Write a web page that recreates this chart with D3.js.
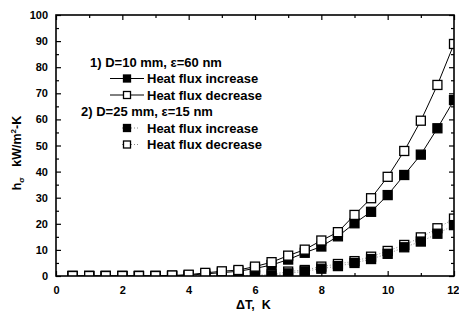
<!DOCTYPE html>
<html>
<head>
<meta charset="utf-8">
<script src="https://cdn.jsdelivr.net/npm/d3@7"></script>
<style>
  body { margin: 0; background: #fff; }
  svg { display: block; font-family: "Liberation Sans", Arial, sans-serif; }
  text { white-space: pre; }
</style>
</head>
<body>
<svg width="459" height="320"></svg>
<script>
"use strict";

// Data.

var dT = [0.5, 1, 1.5, 2, 2.5, 3, 3.5, 4, 4.5, 5, 5.5, 6,
          6.5, 7, 7.5, 8, 8.5, 9, 9.5, 10, 10.5, 11, 11.5, 12];

// 1) D=10 mm, eps=60 nm
var inc10 = [0, 0, 0, 0, 0, 0, 0.1, 0.3, 0.8, 1.3, 1.8, 2.9,
             4.2, 6.3, 8.9, 11.3, 15.2, 20.2, 24.6, 31.0, 38.7, 46.5, 56.6, 67.4];
var dec10 = [0, 0, 0, 0, 0, 0, 0.2, 0.5, 1.2, 1.8, 2.3, 3.6,
             5.3, 7.8, 10.1, 13.6, 16.8, 23.4, 29.8, 38.0, 47.9, 59.5, 73.2, 88.9];

// 2) D=25 mm, eps=15 nm
var inc25 = [0, 0, 0, 0, 0, 0, 0, 0, 0, 0, 0, 0,
             0.2, 1.0, 1.8, 2.8, 3.8, 5.0, 6.5, 8.5, 11.0, 13.2, 16.2, 19.5];
var dec25 = [0, 0, 0, 0, 0, 0, 0, 0, 0, 0, 0.1, 0.3,
             0.6, 1.7, 2.3, 3.6, 4.6, 5.7, 7.4, 9.6, 11.9, 14.8, 18.3, 22.0];

var xTicks = [0, 2, 4, 6, 8, 10, 12];
var yTicks = [0, 10, 20, 30, 40, 50, 60, 70, 80, 90, 100];

var legendRows = [
  {text: "1) D=10 mm, \u03b5=60 nm", kind: "head"},
  {text: "Heat flux increase", kind: "solid", fill: "#000"},
  {text: "Heat flux decrease", kind: "solid", fill: "#fff"},
  {text: "2) D=25 mm, \u03b5=15 nm", kind: "head"},
  {text: "Heat flux increase", kind: "dot", fill: "#000"},
  {text: "Heat flux decrease", kind: "dot", fill: "#fff"}
];

// SVG and scales.

var svg = d3.select("svg");
var Left = 56, Right = 454, Top = 15, Bottom = 276;

var x = d3.scaleLinear().domain([0, 12]).range([Left, Right]);
var y = d3.scaleLinear().domain([0, 100]).range([Bottom, Top]);

var MarkSize = 9;
var TickFont = "11px";

// Markers are cut by the frame, like in the original.
svg.append("clipPath").attr("id", "plot")
  .append("rect")
    .attr("x", Left).attr("y", Top)
    .attr("width", Right - Left).attr("height", Bottom - Top);

// Axes: ticks point inward on all four sides.

var DrawAxis = function(axis, tx, ty, labels){
  var g = svg.append("g")
    .attr("transform", "translate(" + tx + "," + ty + ")")
    .call(axis);
  g.select(".domain").remove();
  g.selectAll("line").attr("stroke", "#000").attr("stroke-width", 1.2);
  g.selectAll("text").attr("fill", "#000")
    .style("font-size", TickFont).style("font-weight", "bold");
  if (!labels) g.selectAll("text").remove();
  return g;
};

var xg = DrawAxis(d3.axisBottom(x).tickValues(xTicks).tickSize(-5).tickPadding(10), 0, Bottom, true);
// last label sits on the window edge, keep it inside
xg.selectAll("text").filter(function(d){ return d == 12; })
  .attr("text-anchor", "end").attr("x", 459 - Right);
DrawAxis(d3.axisBottom(x).tickValues(d3.range(1, 12, 2)).tickSize(-3), 0, Bottom, false);
DrawAxis(d3.axisTop(x).tickValues(xTicks).tickSize(-5), 0, Top, false);
DrawAxis(d3.axisTop(x).tickValues(d3.range(1, 12, 2)).tickSize(-3), 0, Top, false);

DrawAxis(d3.axisLeft(y).tickValues(yTicks).tickSize(-5).tickPadding(8), Left, 0, true);
DrawAxis(d3.axisLeft(y).tickValues(d3.range(5, 100, 10)).tickSize(-3), Left, 0, false);
DrawAxis(d3.axisRight(y).tickValues(yTicks).tickSize(-5), Right, 0, false);
DrawAxis(d3.axisRight(y).tickValues(d3.range(5, 100, 10)).tickSize(-3), Right, 0, false);

// Axis titles.

svg.append("text")
  .attr("x", 236).attr("y", 309)
  .style("font-size", "12.5px").style("font-weight", "bold")
  .text("\u0394T,  K");

var yl = svg.append("text")
  .attr("transform", "translate(21,153) rotate(-90)")
  .attr("text-anchor", "middle")
  .style("font-size", "12.5px").style("font-weight", "bold");
yl.append("tspan").text("h");
yl.append("tspan").attr("dy", 3).style("font-size", "8px").text("\u03c3");
yl.append("tspan").attr("dy", -3).text("   kW/m");
yl.append("tspan").attr("dy", -5).style("font-size", "8px").text("2");
yl.append("tspan").attr("dy", 5).text("-K");

// Series.

var series = [
  {values: dec25, fill: "#fff", line: "dot"},
  {values: inc25, fill: "#000", line: "dot"},
  {values: inc10, fill: "#000", line: "solid"},
  {values: dec10, fill: "#fff", line: "solid"}
];

var line = d3.line()
  .x(function(d){ return x(d[0]); })
  .y(function(d){ return y(d[1]); });

var plot = svg.append("g").attr("clip-path", "url(#plot)");

series.forEach(function(s){
  var pts = dT.map(function(t, i){ return [t, s.values[i]]; });
  plot.append("path")
    .attr("d", line(pts))
    .attr("fill", "none")
    .attr("stroke", s.line == "solid" ? "#000" : "#888")
    .attr("stroke-width", 1)
    .attr("stroke-dasharray", s.line == "solid" ? null : "1,2");
});

series.forEach(function(s){
  var pts = dT.map(function(t, i){ return [t, s.values[i]]; });
  plot.append("g").selectAll("rect")
    .data(pts)
    .enter()
    .append("rect")
      .attr("x", function(d){ return x(d[0]) - MarkSize/2; })
      .attr("y", function(d){ return y(d[1]) - MarkSize/2; })
      .attr("width", MarkSize)
      .attr("height", MarkSize)
      .attr("fill", s.fill)
      .attr("stroke", "#000")
      .attr("stroke-width", 1.3);
});

svg.append("rect")
  .attr("x", Left).attr("y", Top)
  .attr("width", Right - Left).attr("height", Bottom - Top)
  .attr("fill", "none").attr("stroke", "#000").attr("stroke-width", 1.6);

// Legend.

var LegendY = 62, RowStep = 16.5;
var lg = svg.append("g");

legendRows.forEach(function(r, i){
  var cy = LegendY + i*RowStep;
  if (r.kind == "head"){
    lg.append("text")
      .attr("x", i == 0 ? 90 : 81).attr("y", cy + 4.5)
      .style("font-size", "13px").style("font-weight", "bold")
      .text(r.text);
    return;
  }
  if (r.kind == "solid"){
    lg.append("line")
      .attr("x1", 110).attr("x2", 144)
      .attr("y1", cy).attr("y2", cy)
      .attr("stroke", "#000").attr("stroke-width", 1);
  } else {
    lg.append("line")
      .attr("x1", 122).attr("x2", 138)
      .attr("y1", cy).attr("y2", cy)
      .attr("stroke", "#888").attr("stroke-dasharray", "1,2");
  }
  lg.append("rect")
    .attr("x", 127 - 3.5).attr("y", cy - 3.5)
    .attr("width", 7).attr("height", 7)
    .attr("fill", r.fill).attr("stroke", "#000").attr("stroke-width", 1.3);
  lg.append("text")
    .attr("x", 147).attr("y", cy + 4.5)
    .style("font-size", "13px").style("font-weight", "bold")
    .text(r.text);
});
</script>
</body>
</html>
